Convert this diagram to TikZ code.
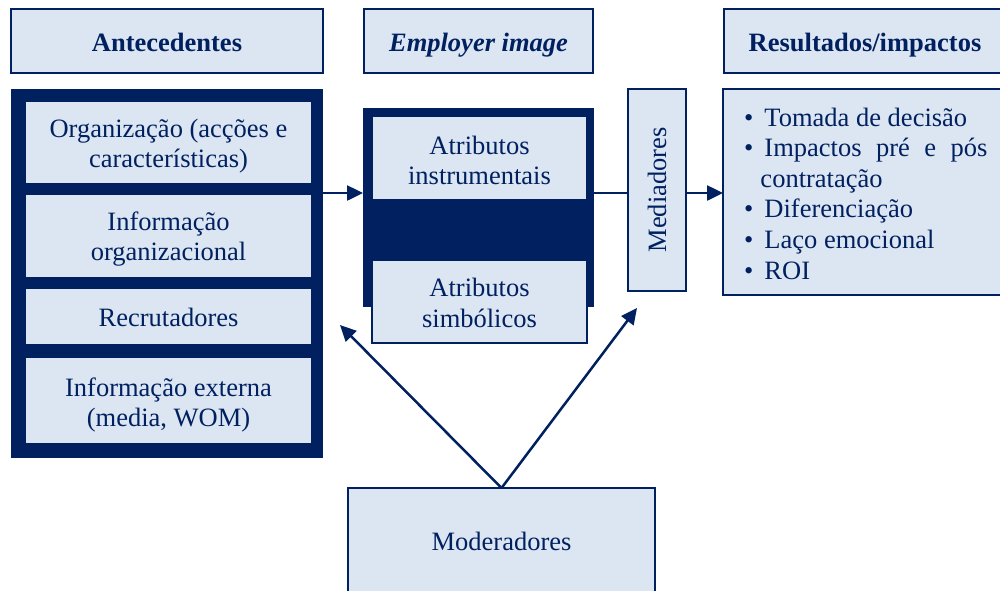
\documentclass[tikz,border=0pt]{standalone}
\usepackage{fontspec}
\setmainfont{Liberation Serif}
\usetikzlibrary{arrows.meta}
\definecolor{navy}{RGB}{0,32,96}
\definecolor{paleblue}{RGB}{220,230,242}
% centred lines, set a little lower than the box centre
\newcommand{\lowtext}[2][3pt]{\raisebox{-#1}[\height][\depth]{\begin{tabular}{@{}c@{}}#2\end{tabular}}}
\tikzset{
  base/.style={inner sep=0pt, outer sep=0pt, anchor=north west},
  lightbox/.style={base, draw=navy, line width=1.5pt, fill=paleblue, text=navy,
    align=center, font=\fontsize{26.5}{30.5}\selectfont},
  darkbox/.style={base, fill=navy},
  headbox/.style={lightbox, font=\fontsize{26.5}{30.5}\selectfont\bfseries},
  conn/.style={draw=navy, line width=2.5pt},
  arr/.style={conn, -{Triangle[length=16pt,width=15pt]}},
}
\begin{document}
\begin{tikzpicture}[x=1pt,y=-1pt]
\useasboundingbox (0,0) rectangle (1000,590);

% column headers
\node[headbox, minimum width=312pt, minimum height=64pt] (hant) at (11,9) {\lowtext[4pt]{Antecedentes}};
\node[headbox, minimum width=229pt, minimum height=64pt] (hemp) at (364,9) {\lowtext[4pt]{\itshape Employer image}};
\node[headbox, minimum width=290pt, minimum height=64pt] (hres) at (724,9) {\hspace*{-8pt}\lowtext[4pt]{Resultados/impactos}};

% antecedents block
\node[darkbox, minimum width=312pt, minimum height=369pt] (ant) at (11,89) {};
\node[lightbox, minimum width=287pt, minimum height=83pt] (org) at (25,101) {\lowtext[4pt]{Organização (acções e\\características)}};
\node[lightbox, minimum width=287pt, minimum height=84pt] (info) at (25,194) {\lowtext[3.5pt]{Informação\\organizacional}};
\node[lightbox, minimum width=287pt, minimum height=57pt] (recr) at (25,288) {\lowtext[4pt]{Recrutadores}};
\node[lightbox, minimum width=287pt, minimum height=87pt] (ext) at (25,357) {\lowtext[5pt]{Informação externa\\(media, WOM)}};

% employer image block
\node[darkbox, minimum width=231pt, minimum height=199pt] (emp) at (363,108) {};
\node[lightbox, minimum width=215pt, minimum height=84pt] (instr) at (372,116) {\lowtext[5.5pt]{Atributos\\instrumentais}};
\node[lightbox, minimum width=215pt, minimum height=83pt] (simb) at (372,260) {\lowtext[4.5pt]{Atributos\\simbólicos}};

% mediators
\node[lightbox, minimum width=58pt, minimum height=202pt] (med) at (628,89) {};
\node[text=navy, font=\fontsize{26.5}{30}\selectfont, rotate=90, inner sep=0pt] (medtxt) at (med.center) {Mediadores};

% outcomes
\node[lightbox, minimum width=285pt, minimum height=206pt] (res) at (723,89) {};
\node[inner sep=0pt, anchor=base west, text=navy, font=\fontsize{26.5}{30.6}\selectfont] (reslist) at (744,126)
{\begin{tabular}[t]{@{}l@{\hspace{11pt}}l@{}}
• & Tomada de decisão\\
• & \hbox to 223pt{Impactos\hfill pré\hfill e\hfill pós}\\
  & \hspace*{-4pt}contratação\\
• & Diferenciação\\
• & Laço emocional\\
• & ROI
\end{tabular}};

% moderators (box runs past the lower edge)
\node[base, fill=paleblue, minimum width=307pt, minimum height=110pt] (mod) at (348,488) {};
\draw[navy, line width=1.5pt] (mod.south west) -- (mod.north west) -- (mod.north east) -- (mod.south east);
\node[text=navy, font=\fontsize{26.5}{30}\selectfont, inner sep=0pt] (modtxt) at (501.5,541) {Moderadores};

% connectors
\coordinate (flow) at (0,193);
\coordinate (tipL) at (340,325);
\coordinate (tipR) at (637,308);
\draw[arr] (ant.east |- flow) -- (emp.west |- flow);
\draw[conn] (emp.east |- flow) -- (med.west |- flow);
\draw[arr] (med.east |- flow) -- (res.west |- flow);
\draw[arr] (mod.north) -- (tipL);
\draw[arr] (mod.north) -- (tipR);
\end{tikzpicture}
\end{document}
